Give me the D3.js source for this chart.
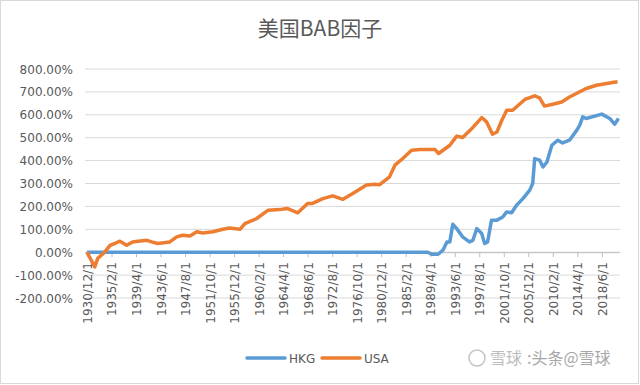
<!DOCTYPE html>
<html>
<head>
<meta charset="utf-8">
<script src="https://d3js.org/d3.v7.min.js"></script>
<style>
body { margin: 0; background: #fff; }
text { font-family: "DejaVu Sans", sans-serif; fill: #595959; }
</style>
</head>
<body>
<svg id="chart" width="640" height="385"></svg>
<script>
// tick labels on the category axis, one every 50 months
var tickLabels = ["1930/12/1", "1935/2/1", "1939/4/1", "1943/6/1", "1947/8/1", "1951/10/1",
  "1955/12/1", "1960/2/1", "1964/4/1", "1968/6/1", "1972/8/1", "1976/10/1", "1980/12/1",
  "1985/2/1", "1989/4/1", "1993/6/1", "1997/8/1", "2001/10/1", "2005/12/1", "2010/2/1",
  "2014/4/1", "2018/6/1"];

var yTicks = [-200, -100, 0, 100, 200, 300, 400, 500, 600, 700, 800];

// cumulative return in %
var usaDates = ["1930/12", "1932/4", "1932/10", "1933/12", "1934/11", "1935/9", "1936/7", "1937/9",
  "1938/9", "1939/8", "1941/2", "1941/12", "1942/12", "1945/1", "1946/3", "1947/3", "1948/6",
  "1949/8", "1950/8", "1952/5", "1954/1", "1955/3", "1956/12", "1957/10", "1959/10", "1961/9",
  "1963/9", "1964/12", "1966/10", "1968/6", "1969/4", "1971/1", "1972/9", "1974/6", "1976/2",
  "1978/6", "1979/11", "1980/9", "1982/5", "1983/4", "1984/8", "1986/2", "1987/7", "1989/3",
  "1990/2", "1990/9", "1992/8", "1993/10", "1994/10", "1996/7", "1998/1", "1998/11", "1999/11",
  "2000/8", "2001/6", "2002/4", "2003/4", "2005/5", "2007/1", "2007/11", "2008/9", "2010/2",
  "2011/8", "2012/12", "2015/10", "2017/7", "2019/4", "2020/4", "2021/2"];
var usaValues = [0, -64, -27, 0, 30, 38, 48, 30,
  45, 48, 52, 45, 38, 45, 67, 74, 71,
  89, 84, 89, 100, 106, 100, 125, 147, 183,
  186, 191, 172, 213, 213, 234, 246, 231, 256,
  293, 297, 295, 329, 380, 409, 445, 448, 448,
  448, 431, 467, 507, 501, 545, 588, 569, 515,
  525, 576, 620, 620, 667, 683, 674, 638, 646,
  656, 678, 715, 729, 737, 741, 744];

var hkgDates = ["1930/12", "1988/11", "1989/7", "1990/8", "1991/6", "1992/2", "1992/8", "1993/2",
  "1993/10", "1994/10", "1995/12", "1996/7", "1997/3", "1998/1", "1998/7", "1999/1", "1999/9",
  "2000/8", "2001/8", "2002/4", "2003/2", "2003/12", "2005/1", "2006/3", "2006/9", "2007/1",
  "2007/11", "2008/6", "2009/2", "2009/12", "2010/12", "2011/10", "2012/12", "2014/3", "2014/9",
  "2015/3", "2015/10", "2018/6", "2019/10", "2020/8", "2021/4"];
var hkgValues = [0, 0, -9, -9, 9, 45, 45, 122,
  103, 67, 45, 52, 103, 82, 38, 45, 140,
  140, 154, 176, 172, 205, 234, 271, 300, 409,
  402, 372, 394, 467, 489, 477, 489, 533, 555,
  591, 584, 603, 584, 559, 584];

var seriesNames = ["HKG", "USA"];
var colors = {"HKG": "#5B9BD5", "USA": "#ED7D31"};

// months since 1930/12
function monthIndex(s) {
  var p = s.split("/");
  return (+p[0] - 1930) * 12 + (+p[1] - 12);
}

var svg = d3.select("#chart");

svg.append("rect")
  .attr("x", 0.5).attr("y", 0.5).attr("width", 638).attr("height", 383)
  .attr("fill", "#fff").attr("stroke", "#d9d9d9");

var x = d3.scaleLinear().domain([-4, 1087]).range([85, 620]);
var y = d3.scaleLinear().domain([-200, 800]).range([298, 69]);

// gridlines
svg.append("g").selectAll("line")
  .data(yTicks)
  .enter().append("line")
    .attr("x1", 85).attr("x2", 620)
    .attr("y1", function(d) { return y(d); })
    .attr("y2", function(d) { return y(d); })
    .attr("stroke", "#d9d9d9").attr("stroke-width", 1);

// y labels
svg.append("g").selectAll("text")
  .data(yTicks)
  .enter().append("text")
    .attr("x", 73)
    .attr("y", function(d) { return y(d) + 4.5; })
    .attr("text-anchor", "end")
    .style("font-size", "12px")
    .text(function(d) { return d.toFixed(2) + "%"; });

// x axis at zero
var xAxis = d3.axisBottom(x)
  .tickValues(tickLabels.map(function(d, i) { return i * 50; }))
  .tickFormat(function(d, i) { return tickLabels[i]; })
  .tickSizeOuter(0)
  .tickSize(5);

var gx = svg.append("g")
  .attr("transform", "translate(0," + y(0) + ")")
  .call(xAxis);
gx.select(".domain").attr("stroke", "#bfbfbf").attr("d", "M85,0.5H620");
gx.selectAll(".tick line").attr("stroke", "#bfbfbf");
gx.selectAll(".tick text")
  .attr("fill", "#595959")
  .style("font-size", "12px")
  .style("font-family", "DejaVu Sans, sans-serif")
  .attr("text-anchor", "end")
  .attr("transform", "translate(0," + (y(-200) - y(0) - 288 + 262) + ")")
  .attr("x", 0).attr("y", 0)
  .attr("dx", 0).attr("dy", 0)
  .attr("transform", "translate(4.5,10) rotate(-90)");

// lines
var line = d3.line()
  .x(function(d) { return x(d[0]); })
  .y(function(d) { return y(d[1]); });

var hkg = hkgDates.map(function(d, i) { return [monthIndex(d), hkgValues[i]]; });
var usa = usaDates.map(function(d, i) { return [monthIndex(d), usaValues[i]]; });

svg.append("path").datum(hkg)
  .attr("d", line).attr("fill", "none")
  .attr("stroke", colors.HKG).attr("stroke-width", 3.5).attr("stroke-linejoin", "round");
svg.append("path").datum(usa)
  .attr("d", line).attr("fill", "none")
  .attr("stroke", colors.USA).attr("stroke-width", 3.5).attr("stroke-linejoin", "round");

// title
svg.append("text")
  .attr("x", 320).attr("y", 36)
  .attr("text-anchor", "middle")
  .style("font-family", "'Noto Sans CJK SC', sans-serif")
  .style("font-size", "21px")
  .text("美国BAB因子");

// legend
var legend = svg.append("g").selectAll("g")
  .data(seriesNames)
  .enter().append("g")
    .attr("transform", function(d, i) { return "translate(" + (247 + i * 75) + ",358)"; });
legend.append("line")
  .attr("x1", 0).attr("x2", 38)
  .attr("stroke", function(d) { return colors[d]; })
  .attr("stroke-width", 3.5)
  .attr("stroke-linecap", "round");
legend.append("text")
  .attr("x", 42).attr("y", 4.5)
  .style("font-size", "12px")
  .text(function(d) { return d; });

// watermark
var wm = svg.append("g").attr("opacity", 0.75);
wm.append("circle").attr("cx", 477).attr("cy", 358).attr("r", 8)
  .attr("fill", "none").attr("stroke", "#b0b0b0").attr("stroke-width", 1.5);
wm.append("text")
  .attr("x", 490).attr("y", 364)
  .style("font-family", "'Noto Sans CJK SC', sans-serif")
  .style("font-size", "16px")
  .style("fill", "#a8a8a8")
  .text("雪球");
wm.append("text")
  .attr("x", 527).attr("y", 364)
  .style("font-family", "'Noto Sans CJK SC', sans-serif")
  .style("font-size", "16px")
  .style("fill", "#8a8a8a")
  .text(":头条@雪球");
</script>
</body>
</html>
